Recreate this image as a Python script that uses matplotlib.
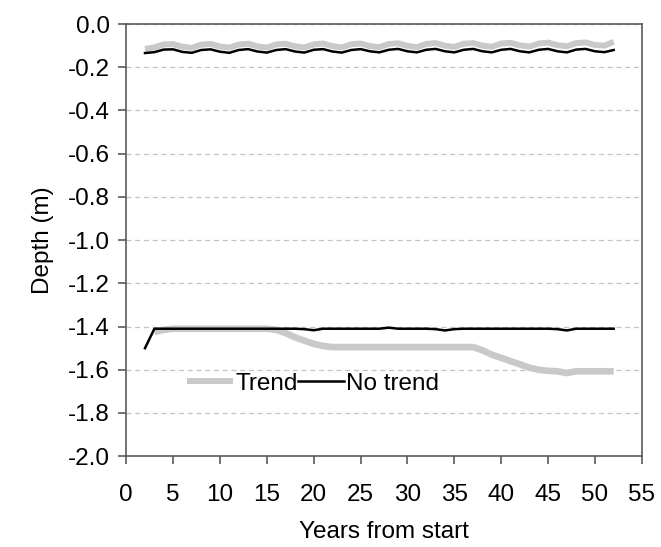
"""
Depth over time, with and without trend.
"""

import matplotlib.pyplot as plt

plt.rcParams["font.family"] = ["Liberation Sans", "DejaVu Sans"]

years = list(range(2, 53))

# upper pair of series (seasonal wiggle near the surface)
no_trend_upper = [
    -0.134, -0.130, -0.118, -0.117, -0.129, -0.133, -0.120, -0.117, -0.128, -0.133,
    -0.120, -0.116, -0.127, -0.132, -0.120, -0.116, -0.127, -0.132, -0.119, -0.116,
    -0.127, -0.132, -0.120, -0.116, -0.126, -0.131, -0.119, -0.115, -0.126, -0.131,
    -0.119, -0.115, -0.126, -0.131, -0.119, -0.115, -0.126, -0.131, -0.119, -0.115,
    -0.126, -0.131, -0.119, -0.115, -0.126, -0.131, -0.118, -0.115, -0.126, -0.130,
    -0.120,
]
trend_upper = [
    -0.115, -0.108, -0.094, -0.093, -0.105, -0.110, -0.095, -0.092, -0.104, -0.109,
    -0.095, -0.091, -0.103, -0.109, -0.094, -0.091, -0.103, -0.108, -0.094, -0.090,
    -0.102, -0.108, -0.093, -0.090, -0.102, -0.107, -0.092, -0.089, -0.101, -0.107,
    -0.092, -0.088, -0.100, -0.106, -0.091, -0.088, -0.100, -0.105, -0.090, -0.087,
    -0.099, -0.104, -0.090, -0.086, -0.098, -0.103, -0.088, -0.085, -0.097, -0.100,
    -0.082,
]

# lower pair of series
no_trend_lower = [
    -1.500, -1.410, -1.410, -1.410, -1.410, -1.410, -1.410, -1.410, -1.410, -1.410,
    -1.410, -1.410, -1.410, -1.410, -1.410, -1.410, -1.410, -1.412, -1.417, -1.410,
    -1.410, -1.410, -1.410, -1.410, -1.410, -1.410, -1.405, -1.410, -1.410, -1.410,
    -1.410, -1.412, -1.418, -1.412, -1.410, -1.410, -1.410, -1.410, -1.410, -1.410,
    -1.410, -1.410, -1.410, -1.410, -1.412, -1.418, -1.410, -1.410, -1.410, -1.410,
    -1.410,
]
years_trend_lower = list(range(3, 53))
trend_lower = [
    -1.425, -1.415, -1.410, -1.410, -1.410, -1.410, -1.410, -1.410, -1.410, -1.410,
    -1.410, -1.410, -1.410, -1.415, -1.430, -1.450, -1.465, -1.480, -1.490, -1.495,
    -1.495, -1.495, -1.495, -1.495, -1.495, -1.495, -1.495, -1.495, -1.495, -1.495,
    -1.495, -1.495, -1.495, -1.495, -1.495, -1.510, -1.530, -1.545, -1.560, -1.575,
    -1.590, -1.600, -1.605, -1.607, -1.615, -1.607, -1.607, -1.607, -1.607, -1.607,
]

x_ticks = [0, 5, 10, 15, 20, 25, 30, 35, 40, 45, 50, 55]
y_ticks = [0.0, -0.2, -0.4, -0.6, -0.8, -1.0, -1.2, -1.4, -1.6, -1.8, -2.0]

grey = "#c9c9c9"
font_size = 17.5

fig = plt.figure(figsize=(6.61, 5.47), dpi=100)
ax = fig.add_axes([0.191, 0.166, 0.780, 0.790])

# grid lines first so the series sit on top
ax.set_axisbelow(True)
ax.yaxis.grid(True, color="#c4c4c4", linestyle=(0, (4, 3)), linewidth=0.9)

ax.plot(years, trend_upper, color=grey, lw=4.3, solid_capstyle="butt", label="Trend")
ax.plot(years, no_trend_upper, color="black", lw=1.8, label="No trend")
ax.plot(years_trend_lower, trend_lower, color=grey, lw=4.8, solid_capstyle="butt")
ax.plot(years, no_trend_lower, color="black", lw=1.8)

ax.set_xlim(0, 55)
ax.set_ylim(-2.0, 0.0)
ax.set_xticks(x_ticks)
ax.set_yticks(y_ticks)
ax.set_yticklabels([f"{v:.1f}" for v in y_ticks])

for side in ["left", "bottom", "top", "right"]:
    ax.spines[side].set_color("#5a5a5a")
    ax.spines[side].set_linewidth(1.2)

ax.tick_params(axis="both", labelsize=font_size, colors="#5a5a5a", labelcolor="black",
               length=6, width=1.2, direction="out")
ax.tick_params(axis="x", pad=14)
ax.tick_params(axis="y", pad=6)

ax.set_xlabel("Years from start", fontsize=font_size, labelpad=11)
ax.set_ylabel("Depth (m)", fontsize=font_size, labelpad=10)

ax.legend(
    loc="center left",
    bbox_to_anchor=(0.075, 0.1675),
    ncol=2,
    frameon=False,
    fontsize=font_size,
    handlelength=1.9,
    handletextpad=0.1,
    columnspacing=0.0,
)

plt.savefig("out.png", dpi=100)
